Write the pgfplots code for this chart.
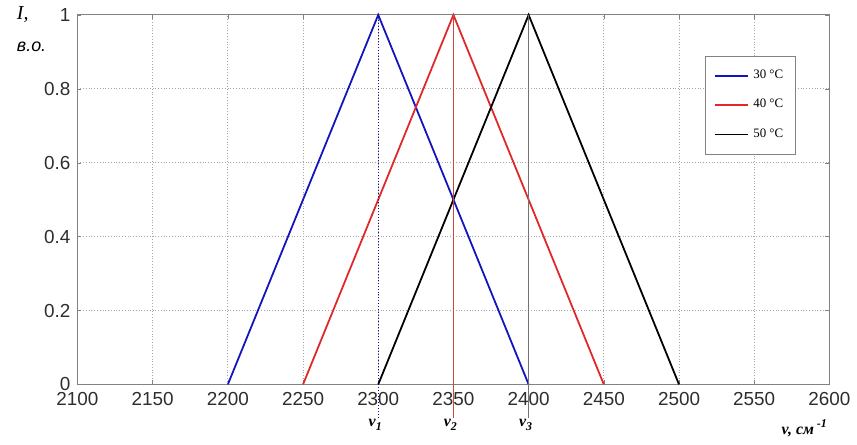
\documentclass[border=0pt]{standalone}
\usepackage{fontspec}
\setmainfont{Liberation Serif}
\setsansfont{Liberation Sans}
\usepackage{pgfplots}
\pgfplotsset{compat=1.18}
\definecolor{cblue}{RGB}{20,20,190}
\definecolor{cred}{RGB}{225,40,40}
\definecolor{vred}{RGB}{205,70,60}
\definecolor{axgray}{RGB}{130,130,130}
\definecolor{txtgray}{RGB}{45,45,45}
\begin{document}
\begin{tikzpicture}
\begin{axis}[
  scale only axis,
  width=378.5pt, height=186pt,
  xmin=2100, xmax=2600, ymin=0, ymax=1,
  xtick={2100,2150,...,2600},
  ytick={0,0.2,...,1},
  yticklabels={0,0.2,0.4,0.6,0.8,1},
  xticklabel style={/pgf/number format/1000 sep={}},
  /pgf/number format/assume math mode=true,
  tick label style={font=\sffamily\fontsize{9.5}{10}\selectfont, text=txtgray},
  xticklabel style={yshift=-0.5pt},
  tick align=inside,
  major tick length=2pt,
  tick style={axgray},
  axis line style={axgray, line width=0.6pt},
  grid=major,
  grid style={densely dotted, gray!70, line width=0.4pt},
  clip=false,
  legend style={at={(0.955,0.89)}, anchor=north east, draw=axgray,
    font=\fontsize{6.5}{7}\selectfont, row sep=5pt, inner xsep=4pt, inner ysep=5pt},
  legend cell align=left,
]
\addplot[cblue, line width=0.9pt] coordinates {(2200,0) (2300,1) (2400,0)};
\addlegendentry{30 °C}
\addplot[cred, line width=0.9pt] coordinates {(2250,0) (2350,1) (2450,0)};
\addlegendentry{40 °C}
\addplot[black, line width=0.9pt] coordinates {(2300,0) (2400,1) (2500,0)};
\addlegendentry{50 °C}
\addplot[vred, line width=0.5pt, forget plot] coordinates {(2350,-0.09) (2350,1)};
\addplot[black!55, line width=0.4pt, forget plot] coordinates {(2400,-0.09) (2400,1)};
\addplot[cblue!70!black, densely dotted, line width=0.5pt, forget plot] coordinates {(2300,-0.09) (2300,1)};
\node[font=\fontsize{8}{9}\selectfont\bfseries\itshape, anchor=north] at (axis cs:2298,-0.075) {v\raisebox{-2pt}{\fontsize{6}{6}\selectfont\itshape 1}};
\node[font=\fontsize{8}{9}\selectfont\bfseries\itshape, anchor=north] at (axis cs:2348,-0.075) {v\raisebox{-2pt}{\fontsize{6}{6}\selectfont\itshape 2}};
\node[font=\fontsize{8}{9}\selectfont\bfseries\itshape, anchor=north] at (axis cs:2398,-0.075) {v\raisebox{-2pt}{\fontsize{6}{6}\selectfont\itshape 3}};
\node[font=\fontsize{8}{9}\selectfont\bfseries\itshape, anchor=north east] at (axis cs:2603,-0.075) {v, см\raisebox{4pt}{\fontsize{6}{6}\selectfont\itshape\ -1}};
\node[font=\fontsize{10}{10}\selectfont\itshape, anchor=west] at (axis cs:2100,1) [xshift=-34pt,yshift=0pt] {I,};
\node[font=\sffamily\fontsize{9}{10}\selectfont\itshape, anchor=west] at (axis cs:2100,1) [xshift=-34pt,yshift=-16pt] {в.о.};
\end{axis}
\path (-39pt,-22.5pt) rectangle (389.5pt,193.5pt);
\end{tikzpicture}
\end{document}
